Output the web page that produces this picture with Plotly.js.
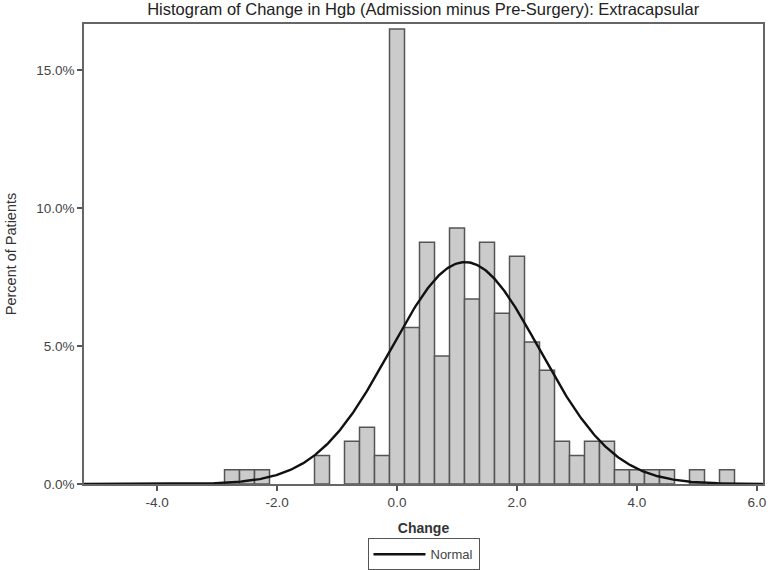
<!DOCTYPE html>
<html>
<head>
<meta charset="utf-8">
<script src="https://cdn.plot.ly/plotly-3.0.1.min.js"></script>
<style>html,body{margin:0;padding:0;background:#fff;}#chart{width:768px;height:570px;}</style>
</head>
<body>
<div id="chart"></div>
<script>
// Histogram bin midpoints (Change in Hgb) and percent of patients (N = 194)
const binMidpoints = [-2.75, -2.5, -2.25, -1.25, -0.75, -0.5, -0.25, 0.0, 0.25, 0.5, 0.75, 1.0, 1.25, 1.5, 1.75, 2.0, 2.25, 2.5, 2.75, 3.0, 3.25, 3.5, 3.75, 4.0, 4.25, 4.5, 5.0, 5.5];
const percentPatients = [0.52, 0.52, 0.52, 1.03, 1.55, 2.06, 1.03, 16.49, 5.67, 8.76, 4.64, 9.28, 6.70, 8.76, 6.19, 8.25, 5.15, 4.12, 1.55, 1.03, 1.55, 1.55, 0.52, 0.52, 0.52, 0.52, 0.52, 0.52];
const binWidth = 0.25;
const xTickVals = [-4, -2, 0, 2, 4, 6];
const xTickText = ["-4.0", "-2.0", "0.0", "2.0", "4.0", "6.0"];
const yTickVals = [0, 5, 10, 15];
const yTickText = ["0.0%", "5.0%", "10.0%", "15.0%"];

// Normal fit from the binned data (sample mean / SD)
const totalPct = percentPatients.reduce((a, b) => a + b, 0);
const mean = binMidpoints.reduce((s, c, i) => s + c * percentPatients[i], 0) / totalPct;
const varPop = binMidpoints.reduce((s, c, i) => s + (c - mean) * (c - mean) * percentPatients[i], 0) / totalPct;
const sd = Math.sqrt(varPop * 194 / 193);
const curveX = [], curveY = [];
for (let x = -5.25; x <= 6.15; x += 0.02) {
  curveX.push(x);
  curveY.push(100 * binWidth * Math.exp(-0.5 * Math.pow((x - mean) / sd, 2)) / (sd * Math.sqrt(2 * Math.PI)));
}

const font = "Liberation Sans, Arial, sans-serif";
const data = [
  {
    type: "bar", x: binMidpoints, y: percentPatients, width: binWidth,
    marker: {color: "#cbcbcb", line: {color: "#555555", width: 1.5}},
    showlegend: false, hoverinfo: "x+y"
  },
  {
    type: "scatter", mode: "lines", x: curveX, y: curveY, name: "Normal",
    line: {color: "#111111", width: 2.4}, showlegend: true
  }
];
const layout = {
  width: 768, height: 570,
  margin: {l: 84, r: 5, t: 24, b: 86, autoexpand: false},
  paper_bgcolor: "#ffffff", plot_bgcolor: "#ffffff",
  font: {family: font, size: 13, color: "#444"},
  title: {text: "Histogram of Change in Hgb (Admission minus Pre-Surgery): Extracapsular",
          font: {family: font, size: 16.5, color: "#222"}, x: 0.551, xanchor: "center",
          y: 0.983, yanchor: "middle", yref: "container"},
  bargap: 0,
  xaxis: {
    range: [-5.217, 6.1], tickvals: xTickVals, ticktext: xTickText,
    ticks: "outside", ticklen: 5, tickwidth: 1.5, tickcolor: "#555",
    showline: true, linecolor: "#666", linewidth: 1.8, mirror: true,
    showgrid: false, zeroline: false,
    tickfont: {family: font, size: 13.5, color: "#444"},
    title: {text: "<b>Change</b>", font: {family: font, size: 14, color: "#333"}, standoff: 14}
  },
  yaxis: {
    range: [0, 16.67], tickvals: yTickVals, ticktext: yTickText,
    ticks: "outside", ticklen: 5, tickwidth: 1.5, tickcolor: "#555",
    showline: true, linecolor: "#666", linewidth: 1.8, mirror: true,
    showgrid: false, zeroline: false,
    tickfont: {family: font, size: 13.5, color: "#444"},
    title: {text: "Percent of Patients", font: {family: font, size: 14.5, color: "#333"}, standoff: 16}
  },
  legend: {
    orientation: "h", x: 0.5, xanchor: "center", y: -0.118, yanchor: "top",
    bordercolor: "#555", borderwidth: 1, bgcolor: "#fff", itemwidth: 52,
    font: {family: font, size: 13, color: "#444"}
  }
};
Plotly.newPlot("chart", data, layout, {displayModeBar: false, staticPlot: true});
</script>
</body>
</html>
